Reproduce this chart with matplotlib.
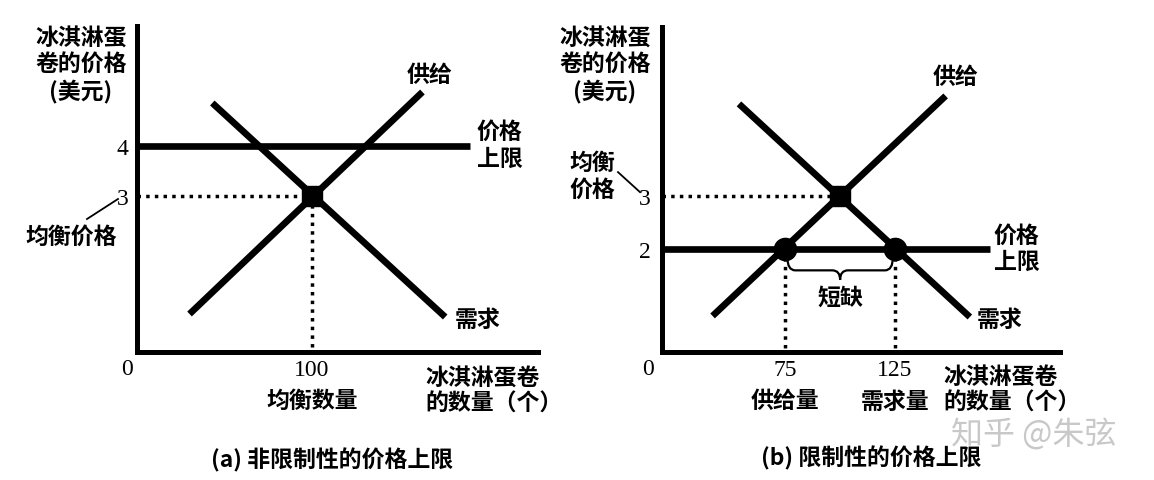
import matplotlib
matplotlib.use("Agg")
import matplotlib.pyplot as plt
import matplotlib.transforms as mtransforms
from matplotlib.path import Path
from matplotlib.patches import PathPatch

plt.rcParams['font.family'] = ['Noto Sans CJK SC', 'DejaVu Sans']

# (a) price ceiling above equilibrium - not binding
supply_q_a = [30, 163]
supply_p_a = [0.64, 5.08]
demand_q_a = [43, 176]
demand_p_a = [4.86, 0.58]
ceiling_a = 4
ceiling_end_a = 190
eq_q_a, eq_p_a = 100, 3

# (b) price ceiling below equilibrium - binding, shortage 75..125
supply_q_b = [42, 148]
supply_p_b = [0.74, 4.89]
demand_q_b = [54, 159]
demand_p_b = [4.74, 0.72]
ceiling_b = 2
ceiling_end_b = 168
eq_q_b, eq_p_b = 100, 3
qs_b, qd_b = 75, 125

ylabel = "冰淇淋蛋\n卷的价格\n(美元)"
xlabel = "冰淇淋蛋卷\n的数量（个）"
serif = "Liberation Serif"
cjk = ['Noto Sans CJK SC', 'DejaVu Sans']
FS = 16.5
NFS = 17
LS = 1.2

W, H = 1154, 481
fig = plt.figure(figsize=(W / 100, H / 100), dpi=100)


def px_from(ax, x, y):
    # pixel offsets around a data point
    return (mtransforms.Affine2D().scale(1 / fig.dpi) + fig.dpi_scale_trans
            + mtransforms.ScaledTranslation(x, y, ax.transData))


def setup(ax, xlim, ylim):
    ax.set_xlim(*xlim)
    ax.set_ylim(*ylim)
    for s in ['top', 'right']:
        ax.spines[s].set_visible(False)
    for s in ['left', 'bottom']:
        ax.spines[s].set_linewidth(3.6)
        ax.spines[s].set_capstyle('projecting')
    ax.tick_params(length=0)
    ax.patch.set_alpha(0)


def label(ax, text, xy, off, xycoords='data', **kw):
    kw.setdefault('fontsize', FS)
    kw.setdefault('family', cjk)
    kw.setdefault('weight', 'bold')
    kw.setdefault('linespacing', LS)
    ax.annotate(text, xy=xy, xycoords=xycoords, xytext=off,
                textcoords='offset pixels', ha=kw.pop('ha', 'center'),
                va='center', annotation_clip=False, **kw)


line_kw = dict(color='black', lw=4.8, solid_capstyle='butt')
dot_kw = dict(color='black', lw=2.5, linestyle=(0, (1, 1.5)), clip_on=False)

# ---------------- panel (a) ----------------
ax = fig.add_axes([137 / W, (H - 353) / H, (538 - 137) / W, (353 - 27) / H])
setup(ax, (0, 229), (-0.12, 6.4))
x0 = ax.get_xlim()[0]
y0 = ax.get_ylim()[0]

ax.plot([x0, ceiling_end_a], [ceiling_a, ceiling_a], **line_kw)
ax.plot([x0, eq_q_a], [eq_p_a, eq_p_a], **dot_kw)
ax.plot([eq_q_a, eq_q_a], [eq_p_a, y0], **dot_kw)
ax.plot(supply_q_a, supply_p_a, **line_kw)
ax.plot(demand_q_a, demand_p_a, **line_kw)
ax.plot([eq_q_a], [eq_p_a], marker='s', ms=15, color='black')

ax.set_yticks([eq_p_a, ceiling_a], ['3', '4'], family=serif, fontsize=NFS)
ax.set_xticks([eq_q_a], ['100'], family=serif, fontsize=NFS)
ax.tick_params(axis='y', pad=6)
ax.tick_params(axis='x', pad=5)

label(ax, '0', (0, 0), (-10, -17), xycoords='axes fraction', family=serif,
      weight='normal', fontsize=NFS)
label(ax, ylabel, (0, 1), (-56, -38), xycoords='axes fraction')
label(ax, xlabel, (1, 0), (-113, -38), xycoords='axes fraction', ha='left')
label(ax, '均衡数量', (eq_q_a, y0), (0, -48))
label(ax, '供给', (supply_q_a[1], supply_p_a[1]), (7, 18))
label(ax, '需求', (demand_q_a[1], demand_p_a[1]), (32, -2))
label(ax, '价格\n上限', (ceiling_end_a, ceiling_a), (30, 1))
label(ax, '均衡价格', (x0, eq_p_a), (-66, -40))
ax.plot([-50, -19], [-23, -3], color='black', lw=1.3,
        transform=px_from(ax, x0, eq_p_a), clip_on=False)

fig.text(332 / W, 1 - 460 / H, '(a) 非限制性的价格上限', ha='center', va='center',
         fontsize=FS, weight='bold', family=cjk)

# ---------------- panel (b) ----------------
ax = fig.add_axes([662 / W, (H - 353) / H, (1060 - 662) / W, (353 - 28) / H])
setup(ax, (19, 200), (0.06, 6.19))
x0 = ax.get_xlim()[0]
y0 = ax.get_ylim()[0]

ax.plot([x0, eq_q_b], [eq_p_b, eq_p_b], **dot_kw)
ax.plot([qs_b, qs_b], [ceiling_b, y0], **dot_kw)
ax.plot([qd_b, qd_b], [ceiling_b, y0], **dot_kw)
ax.plot([x0, ceiling_end_b], [ceiling_b, ceiling_b], **line_kw)
ax.plot(supply_q_b, supply_p_b, **line_kw)
ax.plot(demand_q_b, demand_p_b, **line_kw)
ax.plot([eq_q_b], [eq_p_b], marker='s', ms=15, color='black')
ax.plot([qs_b, qd_b], [ceiling_b, ceiling_b], 'o', ms=16, color='black')

# shortage brace
yt, yh, ytip, w = ceiling_b - 0.15, ceiling_b - 0.40, ceiling_b - 0.58, 3.6
xm = (qs_b + qd_b) / 2
verts = [(qs_b + 1, yt), (qs_b + 1, yh), (qs_b + 1 + w, yh),
         (xm - w, yh), (xm, yh), (xm, ytip),
         (xm, yh), (xm + w, yh),
         (qd_b - 1 - w, yh), (qd_b - 1, yh), (qd_b - 1, yt)]
codes = [Path.MOVETO, Path.CURVE3, Path.CURVE3,
         Path.LINETO, Path.CURVE3, Path.CURVE3,
         Path.CURVE3, Path.CURVE3,
         Path.LINETO, Path.CURVE3, Path.CURVE3]
ax.add_patch(PathPatch(Path(verts, codes), fill=False, lw=1.6, color='black'))

ax.set_yticks([ceiling_b, eq_p_b], ['2', '3'], family=serif, fontsize=NFS)
ax.set_xticks([qs_b, qd_b], ['75', '125'], family=serif, fontsize=NFS)
ax.tick_params(axis='y', pad=8)
ax.tick_params(axis='x', pad=5)

label(ax, '0', (0, 0), (-14, -17), xycoords='axes fraction', family=serif,
      weight='normal', fontsize=NFS)
label(ax, ylabel, (0, 1), (-57, -37), xycoords='axes fraction')
label(ax, xlabel, (1, 0), (-117, -37), xycoords='axes fraction', ha='left')
label(ax, '供给量', (qs_b, y0), (0, -49))
label(ax, '需求量', (qd_b, y0), (0, -49))
label(ax, '短缺', (xm, ceiling_b), (0, -48))
label(ax, '供给', (supply_q_b[1], supply_p_b[1]), (10, 19))
label(ax, '需求', (demand_q_b[1], demand_p_b[1]), (30, -2))
label(ax, '价格\n上限', (ceiling_end_b, ceiling_b), (27, 1))
label(ax, '均衡\n价格', (x0, eq_p_b), (-70, 20))
ax.plot([-44, -22], [24, 4], color='black', lw=1.3,
        transform=px_from(ax, x0, eq_p_b), clip_on=False)

fig.text(871 / W, 1 - 458 / H, '(b) 限制性的价格上限', ha='center', va='center',
         fontsize=FS, weight='bold', family=cjk)
fig.text(1034 / W, 1 - 436 / H, '知乎 @朱弦', ha='center', va='center',
         fontsize=23, color='#c8c8c8', family=cjk)

fig.savefig('out.png', dpi=100, facecolor='white')
